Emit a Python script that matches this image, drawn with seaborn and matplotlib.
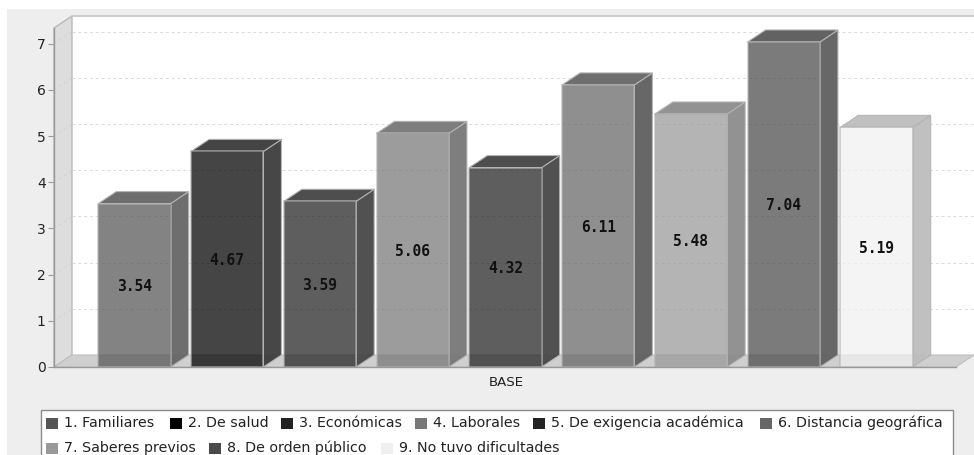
import matplotlib
matplotlib.use("Agg")
import matplotlib.pyplot as plt
from matplotlib.patches import Polygon, Rectangle
import pandas as pd
import seaborn as sns

categories = ["1. Familiares", "2. De salud", "3. Económicas", "4. Laborales",
              "5. De exigencia académica", "6. Distancia geográfica",
              "7. Saberes previos", "8. De orden público", "9. No tuvo dificultades"]
values = [3.54, 4.67, 3.59, 5.06, 4.32, 6.11, 5.48, 7.04, 5.19]
colors = ["#555555", "#000000", "#222222", "#777777", "#222222",
          "#666666", "#999999", "#4a4a4a", "#f0f0f0"]
side_colors = ["#666666", "#3d3d3d", "#474747", "#777777", "#474747",
               "#5f5f5f", "#8c8c8c", "#5f5f5f", "#bdbdbd"]
top_colors = ["#666666", "#3a3a3a", "#444444", "#777777", "#444444",
              "#666666", "#8c8c8c", "#5a5a5a", "#bdbdbd"]
axis_label = "BASE"
yticks = [0, 1, 2, 3, 4, 5, 6, 7]

W, H = 974, 455
BG = "#eeeeee"
sns.set_theme(style="white")
plt.rcParams["font.family"] = ["DejaVu Sans"]

fig = plt.figure(figsize=(W / 100, H / 100), dpi=100, facecolor="white")
fig.add_artist(Rectangle((7 / W, 0), (W - 7) / W, (H - 9) / H,
                         transform=fig.transFigure, fc=BG, ec="none", zorder=-10))

# Axes box = front plane of the 3D plot
left, right, base, top = 54, 956, 367, 28
ax = fig.add_axes([left / W, 1 - base / H, (right - left) / W, (base - top) / H])
ax.patch.set_alpha(0)
px_per_x = 92.75
xc0 = 134.5
ax.set_xlim((left - xc0) / px_per_x, (right - xc0) / px_per_x)
ppy = 46.17
ax.set_ylim(0, (base - top) / ppy)
dx, dy = 18 / px_per_x, 12 / ppy

ymax = ax.get_ylim()[1]
x0, x1 = ax.get_xlim()
# Walls
ax.add_patch(Polygon([(x0 + dx, dy), (x1 + dx, dy), (x1 + dx, ymax + dy), (x0 + dx, ymax + dy)],
                     closed=True, fc="white", ec="none", clip_on=False, zorder=0))
ax.add_patch(Polygon([(x0, 0), (x0 + dx, dy), (x0 + dx, ymax + dy), (x0, ymax)],
                     closed=True, fc="#dddddd", ec="#b8b8b8", lw=1, clip_on=False, zorder=1))
ax.add_patch(Polygon([(x0, 0), (x1, 0), (x1 + dx, dy), (x0 + dx, dy)],
                     closed=True, fc="#cfcfcf", ec="#c0c0c0", lw=0.8, clip_on=False, zorder=1))
ax.plot([x0 + dx, x1 + dx], [ymax + dy, ymax + dy], color="#c8c8c8", lw=1.3, clip_on=False, zorder=1)
# Gridlines on back wall
for t in yticks[1:]:
    ax.plot([x0 + dx, x1 + dx], [t + dy, t + dy], color="#dadada", lw=0.7,
            ls=(0, (3, 3)), clip_on=False, zorder=1.5)
    ax.plot([x0, x0 + dx], [t, t + dy], color="#d2d2d2", lw=0.7,
            ls=(0, (3, 3)), clip_on=False, zorder=1.5)

df = pd.DataFrame({"cat": categories, "val": values})
sns.barplot(data=df, x="cat", y="val", hue="cat", palette=colors, dodge=False, legend=False,
            width=0.78, ax=ax, saturation=1, alpha=0.73, zorder=3,
            edgecolor="#b4b4b4", linewidth=1.1)
ax.set_xlim(x0, x1)
ax.set_ylim(0, ymax)

bars = [b for c in ax.containers for b in c]
for i, bar in enumerate(bars):
    xa, w, h = bar.get_x(), bar.get_width(), bar.get_height()
    xb = xa + w
    ax.add_patch(Polygon([(xb, 0), (xb + dx, dy), (xb + dx, h + dy), (xb, h)], closed=True,
                         fc=side_colors[i], ec="#b4b4b4", lw=0.8, alpha=0.95,
                         clip_on=False, zorder=2.9))
    ax.add_patch(Polygon([(xa, h), (xb, h), (xb + dx, h + dy), (xa + dx, h + dy)], closed=True,
                         fc=top_colors[i], ec="#b4b4b4", lw=0.8, alpha=0.95,
                         clip_on=False, zorder=2.9))
    ax.text(xa + w / 2, h / 2 - 0.03, f"{values[i]:.2f}", ha="center", va="center",
            fontsize=10.5, fontweight="bold", family="DejaVu Sans Mono",
            color="#111111", zorder=5)

sns.despine(ax=ax, top=True, right=True, left=False, bottom=False)
for s in ("left", "bottom"):
    ax.spines[s].set_color("#999999")
    ax.spines[s].set_linewidth(1)
    ax.spines[s].set_zorder(4)
ax.set_yticks(yticks)
ax.set_yticklabels([str(t) for t in yticks], fontsize=10, color="#222222")
ax.tick_params(axis="y", length=4, width=0.8, color="#999999", pad=2, left=True)
ax.set_xticks([])
ax.set_xlabel("")
ax.set_ylabel("")
fig.text(506 / W, 1 - 382 / H, axis_label, ha="center", va="center", fontsize=9.6, color="#222222")

# Legend box: flowing two-row layout, clipped by the bottom edge of the figure
fig.add_artist(Rectangle((40.5 / W, 1 - 462 / H), (953 - 40.5) / W, (462 - 409.5) / H,
                         transform=fig.transFigure, fc="white", ec="#8a8a8a", lw=1))
legend_rows = [(423, [(46, 0), (170, 1), (281, 2), (415, 3), (533, 4), (760, 5)]),
               (448, [(46, 6), (209, 7), (381, 8)])]
for y, row in legend_rows:
    for x, idx in row:
        fig.add_artist(Rectangle((x / W, 1 - (y + 5.5) / H), 12 / W, 11 / H,
                                 transform=fig.transFigure, fc=colors[idx], ec="none"))
        fig.text((x + 18) / W, 1 - y / H, categories[idx], ha="left", va="center",
                 fontsize=10.3, color="#222222")

fig.savefig("out.png", dpi=100, facecolor="white")
